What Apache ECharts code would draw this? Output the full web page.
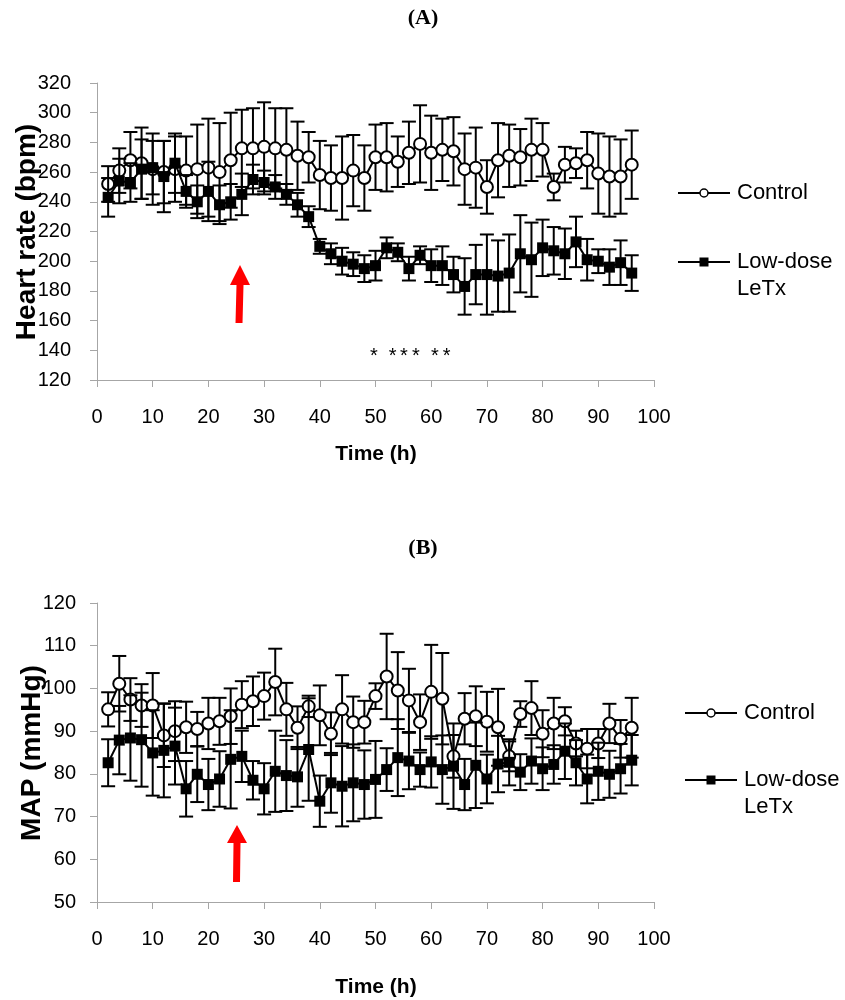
<!DOCTYPE html>
<html>
<head>
<meta charset="utf-8">
<script src="https://cdn.jsdelivr.net/npm/echarts@6/dist/echarts.min.js"></script>
<style>
html,body{margin:0;padding:0;background:#fff;}
#chart{width:845px;height:1000px;}
</style>
</head>
<body>
<div id="chart"></div>
<script>
// ---- Data ----
const times = [2,4,6,8,10,12,14,16,18,20,22,24,26,28,30,32,34,36,38,40,42,44,46,48,50,52,54,56,58,60,62,64,66,68,70,72,74,76,78,80,82,84,86,88,90,92,94,96];
const xTicks = [0,10,20,30,40,50,60,70,80,90,100];

// Panel A: Heart rate (bpm)
const hrControl = [252,261,268,266,262,260,262,261,262,263,260,268,276,276,277,276,275,271,270,258,256,256,261,256,270,270,267,273,279,273,275,274,262,263,250,268,271,270,275,275,250,265,266,268,259,257,257,265];
const hrControlErr = [12,15,19,24,24,21,22,23,30,33,33,32,26,27,30,27,28,23,17,23,22,28,24,22,22,23,17,21,26,25,21,23,24,27,18,25,21,19,21,18,9,12,10,19,27,27,25,23];
const hrLetx = [243,254,253,262,263,257,266,247,240,247,238,240,245,255,253,250,245,238,230,210,205,200,198,195,197,209,206,195,204,197,197,191,183,191,191,190,192,205,201,209,207,205,213,201,200,196,199,192];
const hrLetxErr = [13,15,13,20,18,24,20,11,11,20,13,12,14,10,8,8,7,8,7,5,7,9,8,9,10,7,6,8,6,11,13,12,19,20,27,24,26,26,25,19,16,17,17,14,8,12,15,12];

// Panel B: MAP (mmHg)
const mapControl = [95.1,101.1,97.4,96,96,89,90,90.9,90.5,91.8,92.3,93.5,96.2,97,98.2,101.5,95.1,90.8,95.8,93.7,89.4,95.1,92.1,92.1,98.2,102.8,99.5,97.2,92.1,99.2,97.6,84.1,92.9,93.5,92.2,90.9,84.1,94,95.4,89.4,91.8,92.3,87.1,85.9,87.1,91.8,88.2,90.8];
const mapControlErr = [4,6.5,5,5,7.6,7.4,7,6,4,6,5.5,6.5,5.5,5.8,5.5,7.8,6.2,5,2.5,7,5,8,6,5,3,10,9,7.4,6.5,11,10.7,5,6,7,7,9,3.5,3,6.3,5.5,6,3.3,3,4.6,3.4,4.6,4.4,7];
const mapLetx = [82.6,87.9,88.4,88,84.9,85.5,86.5,76.5,79.9,77.5,78.8,83.4,84.1,78.5,76.5,80.6,79.6,79.3,85.7,73.6,77.9,77.1,77.9,77.5,78.7,81,83.8,83,81,82.8,81,81.8,77.5,82,78.8,82.3,82.7,80.4,83,81.2,82.2,85.3,82.6,78.8,80.6,79.9,81.2,83.2];
const mapLetxErr = [5.5,8,10,11,10,11,9,6.5,6.5,6,6.5,11.5,6,4.5,6,9.5,8.3,7,12,6,7,9.4,9,8,9,5,9,6.6,4,6,8,10,6,10,5.7,6.6,5.4,4.2,5.3,5,4.5,6.5,5.3,5.7,6.7,5.5,5.8,5.9];

const seriesNames = ['Control', 'Low-dose LeTx'];

// ---- Chart ----
const chart = echarts.init(document.getElementById('chart'), null, {renderer: 'canvas'});
const FONT = '"Liberation Sans", Arial, sans-serif';

function pairs(vals){ return times.map((t,i)=>[t, vals[i]]); }
function triples(vals, errs){ return times.map((t,i)=>[t, vals[i], errs[i]]); }

function errRender(params, api){
  const x = api.value(0), v = api.value(1), e = api.value(2);
  const top = api.coord([x, v + e]);
  const bot = api.coord([x, v - e]);
  const hw = 7;
  const st = {stroke:'#000', lineWidth:2};
  return {type:'group', children:[
    {type:'line', shape:{x1:top[0], y1:top[1], x2:bot[0], y2:bot[1]}, style:st},
    {type:'line', shape:{x1:top[0]-hw, y1:top[1], x2:top[0]+hw, y2:top[1]}, style:st},
    {type:'line', shape:{x1:bot[0]-hw, y1:bot[1], x2:bot[0]+hw, y2:bot[1]}, style:st}
  ]};
}

function xAxis(gi){
  return {
    gridIndex: gi, type:'value', min:0, max:100, interval:10,
    axisLine:{show:true, onZero:false, lineStyle:{color:'#a6a6a6', width:1}},
    axisTick:{show:true, length:7, lineStyle:{color:'#a6a6a6'}},
    axisLabel:{color:'#000', fontFamily:FONT, fontSize:20, margin:27,
      formatter: v => xTicks.indexOf(v) >= 0 ? String(v) : ''},
    splitLine:{show:false}
  };
}
function yAxis(gi, min, max, interval, margin){
  return {
    gridIndex: gi, type:'value', min:min, max:max, interval:interval,
    axisLine:{show:true, lineStyle:{color:'#a6a6a6', width:1}},
    axisTick:{show:true, length:7, lineStyle:{color:'#a6a6a6'}},
    axisLabel:{color:'#000', fontFamily:FONT, fontSize:20, margin:margin},
    splitLine:{show:false}
  };
}

function panelSeries(ai, ctrl, ctrlErr, letx, letxErr){
  return [
    {type:'custom', name:seriesNames[0]+' SE', xAxisIndex:ai, yAxisIndex:ai, renderItem:errRender,
      data:triples(ctrl, ctrlErr), encode:{x:0, y:[1,2]}, z:2, silent:true},
    {type:'line', name:seriesNames[0], xAxisIndex:ai, yAxisIndex:ai, data:pairs(ctrl),
      symbol:'circle', symbolSize:12,
      lineStyle:{color:'#000', width:2}, itemStyle:{color:'#fff', borderColor:'#000', borderWidth:2}, z:3},
    {type:'custom', name:seriesNames[1]+' SE', xAxisIndex:ai, yAxisIndex:ai, renderItem:errRender,
      data:triples(letx, letxErr), encode:{x:0, y:[1,2]}, z:4, silent:true},
    {type:'line', name:seriesNames[1], xAxisIndex:ai, yAxisIndex:ai, data:pairs(letx),
      symbol:'rect', symbolSize:11,
      lineStyle:{color:'#000', width:2}, itemStyle:{color:'#000', borderColor:'#000', borderWidth:0}, z:5}
  ];
}

function legendGroup(x0, yC, yL){
  const lineSt = {stroke:'#000', lineWidth:2};
  const txt = {fill:'#000', font:'22px '+FONT, textVerticalAlign:'middle', verticalAlign:'middle'};
  return [
    {type:'line', shape:{x1:x0, y1:yC, x2:x0+52, y2:yC}, style:lineSt, z:10},
    {type:'circle', shape:{cx:x0+26, cy:yC, r:4}, style:{fill:'#fff', stroke:'#000', lineWidth:1.5}, z:11},
    {type:'text', x:x0+59, y:yC, style:Object.assign({text:seriesNames[0]}, txt), z:10},
    {type:'line', shape:{x1:x0, y1:yL, x2:x0+52, y2:yL}, style:lineSt, z:10},
    {type:'rect', shape:{x:x0+21.5, y:yL-4.5, width:9, height:9}, style:{fill:'#000'}, z:11},
    {type:'text', x:x0+59, y:yL, style:Object.assign({text:'Low-dose'}, txt), z:10},
    {type:'text', x:x0+59, y:yL+27, style:Object.assign({text:'LeTx'}, txt), z:10}
  ];
}

function arrow(tipX, tipY, headY, baseY, baseX){
  return {type:'polygon', shape:{points:[
    [tipX, tipY], [tipX+10, headY], [tipX+3.5, headY], [baseX+3.5, baseY],
    [baseX-3.5, baseY], [tipX-3.5, headY], [tipX-10, headY]
  ]}, style:{fill:'#ff0000'}, z:10};
}

const boldTitle = (text, x, y, size, family) => ({type:'text', x:x, y:y,
  style:{text:text, fill:'#000', font:'bold '+size+'px '+family, textAlign:'center', textVerticalAlign:'middle', align:'center', verticalAlign:'middle'}, z:10});

const stars = [374, 392.7, 404, 416, 435, 446.7].map(x => ({type:'text', x:x, y:356,
  style:{text:'*', fill:'#000', font:'20px '+FONT, textAlign:'center', textVerticalAlign:'middle', align:'center', verticalAlign:'middle'}, z:10}));

const graphics = [
  boldTitle('(A)', 423, 18, 22, '"Liberation Serif", "Times New Roman", serif'),
  boldTitle('(B)', 423, 548, 22, '"Liberation Serif", "Times New Roman", serif'),
  Object.assign(boldTitle('Heart rate (bpm)', 27, 232, 28, FONT), {rotation: Math.PI/2}),
  Object.assign(boldTitle('MAP (mmHg)', 32, 753, 28, FONT), {rotation: Math.PI/2}),
  boldTitle('Time (h)', 376, 454, 21, FONT),
  boldTitle('Time (h)', 376, 987, 21, FONT),
  arrow(240, 265, 285, 323, 239),
  arrow(237, 825, 843, 882, 236.5)
].concat(stars, legendGroup(678, 193, 262), legendGroup(685, 713, 780));

chart.setOption({
  animation:false,
  backgroundColor:'#fff',
  grid:[
    {left:97, top:83, width:557, height:297},
    {left:97, top:603, width:557, height:299}
  ],
  xAxis:[xAxis(0), xAxis(1)],
  yAxis:[yAxis(0,120,320,20,26), yAxis(1,50,120,10,21)],
  series: panelSeries(0, hrControl, hrControlErr, hrLetx, hrLetxErr)
    .concat(panelSeries(1, mapControl, mapControlErr, mapLetx, mapLetxErr)),
  graphic: graphics
});
</script>
</body>
</html>
